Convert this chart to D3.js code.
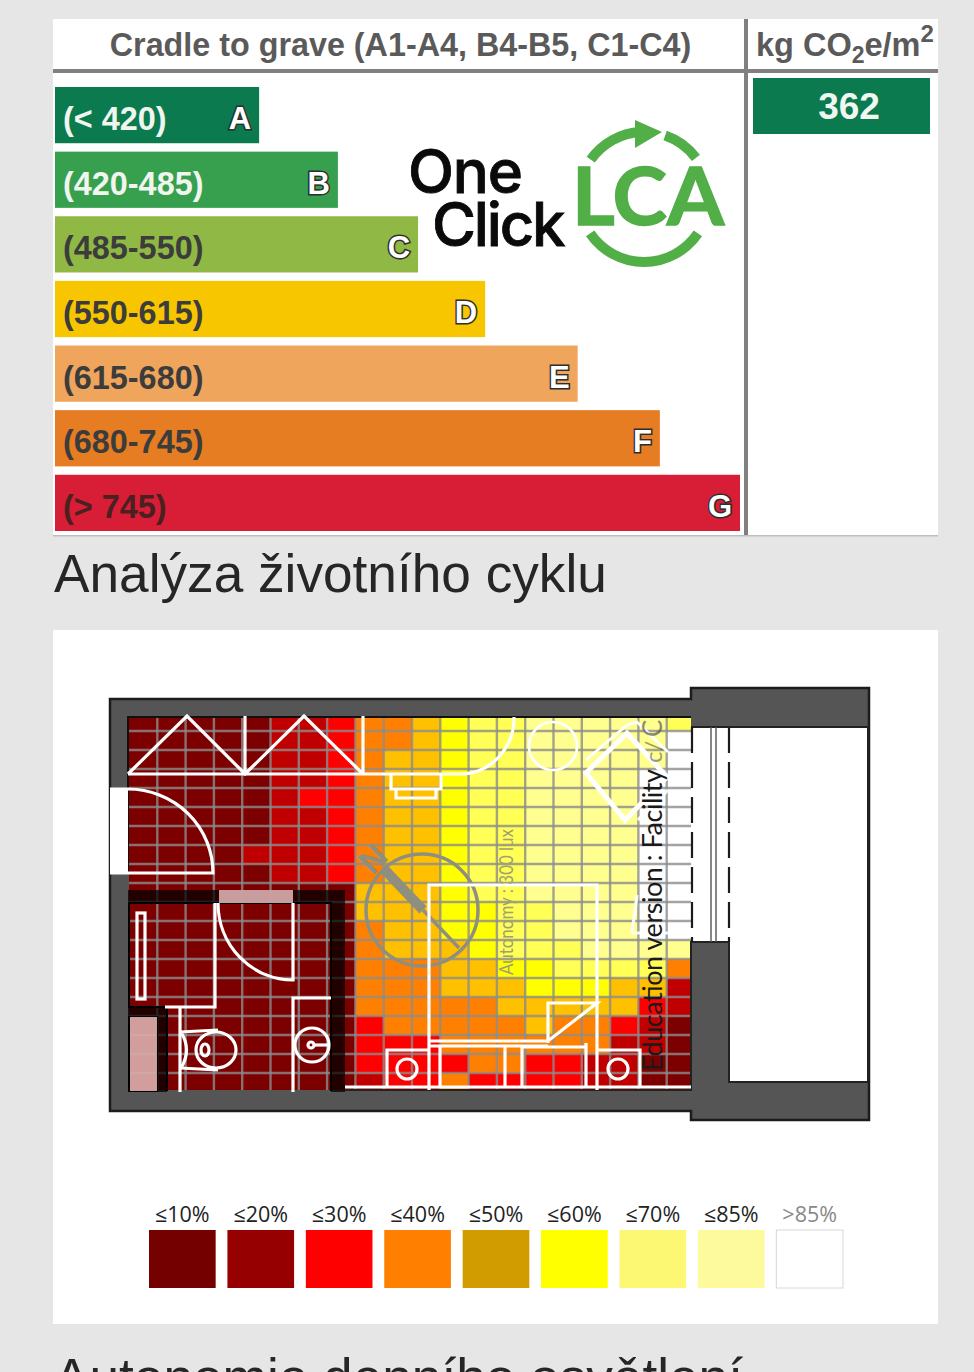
<!DOCTYPE html>
<html>
<head>
<meta charset="utf-8">
<script src="https://cdn.jsdelivr.net/npm/d3@7"></script>
<style>
  html, body { margin: 0; padding: 0; background: #e6e6e6; overflow: hidden; }
  svg { display: block; }
  text { font-family: "Liberation Sans", sans-serif; }
</style>
</head>
<body>
<div id="chart-container"></div>
<script>
// rating bands
const grades = ["A", "B", "C", "D", "E", "F", "G"];
const ranges = ["(< 420)", "(420-485)", "(485-550)", "(550-615)", "(615-680)", "(680-745)", "(> 745)"];
const barLengths = [29.8, 41.3, 53, 62.8, 76.3, 88.3, 100];
const barColors = ["#0b7a4f", "#36a04e", "#8fb944", "#f8c600", "#f0a55c", "#e67d22", "#d71e36"];
const rangeColors = ["#f0f5ee", "#f0f5ee", "#3c3c3c", "#3c3c3c", "#3c3c3c", "#3c3c3c", "#4a2020"];
const resultValue = 362;

// daylight autonomy, one string per grid row, one digit per cell (index into heatColors)
const heatRows = [
  "00000112334566777776",
  "00000112334566777778",
  "00000112344566777778",
  "00000112344566777788",
  "00000122344566777788",
  "00000112344566777788",
  "00000112344566777788",
  "00001112344566777788",
  "00000112344566777788",
  "00000000444566777788",
  "00000000444556677788",
  "00000000344556677788",
  "00000000344456667777",
  "00000000333445566663",
  "00000000333444555441",
  "00000000333334444421",
  "00000000233333433210",
  "00000000222333333110",
  "00000000222233221100",
  "00000000122322221100"
];
const heatColors = ["#7d0000", "#c00000", "#ff0000", "#ff8000", "#ffc000", "#ffff00", "#ffff55", "#ffff90", "#ffffff"];

// legend
const legendLabels = ["≤10%", "≤20%", "≤30%", "≤40%", "≤50%", "≤60%", "≤70%", "≤85%", ">85%"];
const legendColors = ["#750000", "#960000", "#ff0000", "#ff8000", "#d09c00", "#ffff00", "#fdf873", "#fdfa9e", "#ffffff"];

const svg = d3.select("#chart-container")
  .append("svg")
  .attr("width", 974)
  .attr("height", 1372);

// ---- LCA table ----
svg.append("rect").attr("x", 53).attr("y", 19).attr("width", 885).attr("height", 517).attr("fill", "#fff");

const barX = d3.scaleLinear().domain([0, 100]).range([55, 740]);
const barY = d3.scaleBand().domain(grades).range([87, 531]).paddingInner(0.13);

svg.append("text")
  .attr("x", 400.5).attr("y", 56)
  .attr("text-anchor", "middle")
  .attr("font-size", 32.3).attr("font-weight", "bold").attr("fill", "#5a5a5a")
  .text("Cradle to grave (A1-A4, B4-B5, C1-C4)");

const unit = svg.append("text")
  .attr("x", 756).attr("y", 56)
  .attr("font-size", 32.5).attr("font-weight", "bold").attr("fill", "#5a5a5a");
unit.append("tspan").text("kg CO");
unit.append("tspan").attr("font-size", 23).attr("dy", 7).text("2");
unit.append("tspan").attr("dy", -7).text("e/m");
unit.append("tspan").attr("font-size", 24).attr("dy", -14).text("2");

// header rules
svg.append("rect").attr("x", 53).attr("y", 69).attr("width", 885).attr("height", 4).attr("fill", "#808080");
svg.append("rect").attr("x", 744).attr("y", 19).attr("width", 4).attr("height", 517).attr("fill", "#808080");
svg.append("rect").attr("x", 53).attr("y", 535).attr("width", 885).attr("height", 1.5).attr("fill", "#bdbdbd");

const bars = svg.append("g").selectAll("g")
  .data(grades)
  .join("g");

bars.append("rect")
  .attr("x", barX(0))
  .attr("y", d => barY(d))
  .attr("width", (d, i) => barX(barLengths[i]) - barX(0))
  .attr("height", barY.bandwidth())
  .attr("fill", (d, i) => barColors[i]);

bars.append("text")
  .attr("x", barX(0) + 8)
  .attr("y", d => barY(d) + barY.bandwidth() / 2 + 15)
  .attr("font-size", 32.4).attr("font-weight", "bold")
  .attr("fill", (d, i) => rangeColors[i])
  .text((d, i) => ranges[i]);

// grade letters, white with a dark outline
bars.append("text")
  .attr("x", (d, i) => barX(barLengths[i]) - 8)
  .attr("y", d => barY(d) + barY.bandwidth() / 2 + 14)
  .attr("text-anchor", "end")
  .attr("font-size", 31).attr("font-weight", "bold")
  .attr("fill", "#fff").attr("stroke", "#2e2e2e").attr("stroke-width", 3)
  .attr("paint-order", "stroke")
  .text(d => d);

svg.append("rect").attr("x", 753).attr("y", 78).attr("width", 177).attr("height", 56).attr("fill", "#0b7a4f");
svg.append("text")
  .attr("x", 849).attr("y", 119)
  .attr("text-anchor", "middle")
  .attr("font-size", 37).attr("font-weight", "bold").attr("fill", "#f0f7f2")
  .text(resultValue);

// ---- One Click LCA logo ----
svg.append("text").attr("x", 408).attr("y", 193)
  .attr("font-size", 60).attr("fill", "#0a0a0a").attr("stroke", "#0a0a0a").attr("stroke-width", 0.8)
  .style("font-family", "Inter").attr("font-weight", 500).attr("letter-spacing", -1.2)
  .text("One");
svg.append("text").attr("x", 432).attr("y", 246)
  .attr("font-size", 60).attr("fill", "#0a0a0a").attr("stroke", "#0a0a0a").attr("stroke-width", 0.8)
  .style("font-family", "Inter").attr("font-weight", 500).attr("letter-spacing", -2.2)
  .text("Click");
svg.append("text").attr("x", 572).attr("y", 225)
  .attr("font-size", 80).attr("fill", "#52ae47").attr("stroke", "#52ae47").attr("stroke-width", 1.5).attr("font-weight", "bold")
  .attr("textLength", 152).attr("lengthAdjust", "spacingAndGlyphs")
  .style("font-family", "Lato")
  .text("LCA");

const logoArc = d3.arc().innerRadius(60).outerRadius(70);
const deg = Math.PI / 180;
const logo = svg.append("g").attr("transform", "translate(644,197)").attr("fill", "#52ae47");
[[-55, -3], [19, 53], [124, 236]].forEach(a => {
  logo.append("path").attr("d", logoArc({ startAngle: a[0] * deg, endAngle: a[1] * deg }));
});
logo.append("path").attr("d", "M-9,-77 L18,-65 L-9,-49 Z");

// ---- heading ----
svg.append("text").attr("x", 54).attr("y", 592)
  .attr("font-size", 53.2).attr("fill", "#262626")
  .text("Analýza životního cyklu");

// ---- daylight panel ----
svg.append("rect").attr("x", 53).attr("y", 630).attr("width", 885).attr("height", 694).attr("fill", "#fff");

const plan = svg.append("g");

// outer walls
plan.append("path")
  .attr("d", "M110,699 H691 V688 H869 V1120 H691 V1111 H110 Z")
  .attr("fill", "#555").attr("stroke", "#1c1c1c").attr("stroke-width", 2.5);

svg.append("clipPath").attr("id", "room")
  .append("rect").attr("x", 129).attr("y", 718).attr("width", 562).attr("height", 372);

const cellX = d3.scaleLinear().domain([0, 20]).range([129, 695]);
const cellY = d3.scaleLinear().domain([0, 20]).range([712, 1092]);

const heat = plan.append("g").attr("clip-path", "url(#room)");

heatRows.forEach((row, r) => {
  heat.append("g").selectAll("rect")
    .data(row.split("").map(Number))
    .join("rect")
    .attr("x", (d, c) => cellX(c))
    .attr("y", cellY(r))
    .attr("width", cellX(1) - cellX(0) + 0.5)
    .attr("height", cellY(1) - cellY(0) + 0.5)
    .attr("fill", d => heatColors[d]);
});

// grid over the cells
heat.append("g").selectAll("line")
  .data(d3.range(1, 20))
  .join("line")
  .attr("x1", d => cellX(d)).attr("x2", d => cellX(d))
  .attr("y1", 718).attr("y2", 1090)
  .attr("stroke", "#8c8c8c").attr("stroke-opacity", 0.8).attr("stroke-width", 2.4);
heat.append("g").selectAll("line")
  .data(d3.range(1, 20))
  .join("line")
  .attr("x1", 129).attr("x2", 691)
  .attr("y1", d => cellY(d)).attr("y2", d => cellY(d))
  .attr("stroke", "#8c8c8c").attr("stroke-opacity", 0.8).attr("stroke-width", 2.4);

// room edges and exterior
plan.append("path").attr("d", "M128,873 V717 H691").attr("fill", "none").attr("stroke", "#111").attr("stroke-width", 2);
plan.append("rect").attr("x", 691).attr("y", 727).attr("width", 38).attr("height", 215).attr("fill", "#fff");
plan.append("rect").attr("x", 729).attr("y", 727).attr("width", 139).attr("height", 355).attr("fill", "#fff");
plan.append("path").attr("d", "M691,727 H868 V1082 H729 V942 H691 V1090 H345")
  .attr("fill", "none").attr("stroke", "#222").attr("stroke-width", 2);

// bathroom walls
plan.append("path")
  .attr("d", "M128,890 H345 V1092 H331 V903 H128 Z M128,1007 H167 V1092 H157 V1017 H128 Z")
  .attr("fill", "#000").attr("fill-opacity", 0.72);
plan.append("path")
  .attr("d", "M129,903 H331 V1091 M129,903 V1007 H167 V1091 M129,1017 V1091 H157 V1017 Z")
  .attr("fill", "none").attr("stroke", "#000").attr("stroke-width", 2);
plan.append("rect").attr("x", 130).attr("y", 1017).attr("width", 27).attr("height", 74).attr("fill", "#d8aaaa").attr("fill-opacity", 0.92);
plan.append("rect").attr("x", 219).attr("y", 890).attr("width", 74).attr("height", 13).attr("fill", "#d8aaaa").attr("fill-opacity", 0.92);

// north arrow
const north = plan.append("g").attr("stroke", "#8f8f80").attr("fill", "none");
north.append("circle").attr("cx", 422).attr("cy", 910).attr("r", 56).attr("stroke-width", 3.5);
north.append("path").attr("d", "M383,868 L423,910").attr("stroke-width", 10);
north.append("path").attr("d", "M423,910 L459,948").attr("stroke-width", 3.5);
plan.append("text")
  .attr("transform", "translate(381,867) rotate(-45)")
  .attr("font-size", 34).attr("font-weight", "bold").attr("fill", "#8f8f80")
  .attr("text-anchor", "middle")
  .text("N");

// white line work of the furniture and doors
const lines = plan.append("g").attr("fill", "none").attr("stroke", "#fff").attr("stroke-width", 3.2);

lines.append("path").attr("d", "M128,774 H460 A54,56 0 0 0 514,717");
lines.append("path").attr("d", "M128,774 L187,716 L245,774 L304,716 L363,774 M245,716 V774 M363,716 V774");
lines.append("path").attr("d", "M391,775 V789 H441 V775 M396,789 V798 H436 V789");
lines.append("circle").attr("cx", 553).attr("cy", 746).attr("r", 24).attr("stroke-width", 2.6);
lines.append("path").attr("d", "M586,773 L627,733 L667,777 L625,820 Z").attr("stroke-width", 5);
lines.append("path").attr("d", "M586,760 L627,725 L637,722 L668,752").attr("stroke-width", 2.8);
lines.append("path").attr("d", "M638,820 L668,790 M632,933 L637,895 M632,933 H691").attr("stroke-opacity", 0.9);

// entrance door, gap in the wall
plan.append("rect").attr("x", 110).attr("y", 789).attr("width", 18).attr("height", 84).attr("fill", "#fff");
lines.append("path").attr("d", "M110,873 H213 A85,84 0 0 0 128,789 H110");

// bathroom
lines.append("path").attr("d", "M215,903 V1007 H165 M180,1007 V1092");
lines.append("path").attr("d", "M218,903 A75,77 0 0 0 293,980 V903");
lines.append("path").attr("d", "M331,998 H293 V1092");
lines.append("rect").attr("x", 137).attr("y", 913).attr("width", 8).attr("height", 86);
lines.append("ellipse").attr("cx", 216).attr("cy", 1050).attr("rx", 20).attr("ry", 18);
lines.append("ellipse").attr("cx", 205).attr("cy", 1050).attr("rx", 4).attr("ry", 6);
lines.append("path").attr("d", "M180,1032 L218,1030 M180,1068 L218,1070 M181,1032 Q192,1050 181,1068");
lines.append("circle").attr("cx", 312).attr("cy", 1045).attr("r", 17);
lines.append("circle").attr("cx", 311).attr("cy", 1045).attr("r", 3);
lines.append("path").attr("d", "M314,1045 H330");

// bed and bedside tables
lines.append("path").attr("d", "M429,1090 V885 H597 V1090");
lines.append("path").attr("d", "M429,1041 H548 L597,1003 H548 V1043 M429,1046 H548");
lines.append("path").attr("d", "M387,1087 V1050 H429 M597,1050 H640 V1087");
lines.append("path").attr("d", "M440,1087 V1047 M505,1087 V1047 M522,1087 V1047 H586 M586,1043 V1087");
lines.append("circle").attr("cx", 407).attr("cy", 1069).attr("r", 10).attr("stroke-width", 3.2);
lines.append("circle").attr("cx", 618).attr("cy", 1069).attr("r", 10).attr("stroke-width", 3.2);
lines.append("path").attr("d", "M345,1087 H691");

// window
const win = plan.append("g").attr("fill", "none");
win.append("path").attr("d", "M692,727 V942").attr("stroke", "#1c1c1c").attr("stroke-width", 2.2).attr("stroke-dasharray", "26 9");
win.append("path").attr("d", "M729,727 V942").attr("stroke", "#1c1c1c").attr("stroke-width", 2.2).attr("stroke-dasharray", "26 9");
win.append("path").attr("d", "M711,727 V942 M716,727 V942").attr("stroke", "#555").attr("stroke-width", 1.4);

// licence watermarks left in the simulation output
plan.append("text")
  .attr("transform", "translate(662,1071) rotate(-90)")
  .attr("font-size", 27).attr("fill", "#1a1a1a")
  .attr("textLength", 302).attr("lengthAdjust", "spacing")
  .style("font-family", "Lato")
  .text("Education version : Facility");
const wmark = plan.append("g").attr("clip-path", "url(#room)");
wmark.append("text")
  .attr("transform", "translate(662,763) rotate(-90)")
  .attr("font-size", 24).attr("fill", "#555").attr("fill-opacity", 0.6)
  .style("font-family", "Lato")
  .text("c/");
wmark.append("text")
  .attr("transform", "translate(662,737) rotate(-90)")
  .attr("font-size", 26).attr("fill", "#555").attr("fill-opacity", 0.7)
  .style("font-family", "Lato")
  .text("C");
plan.append("text")
  .attr("transform", "translate(513,975) rotate(-90)")
  .attr("font-size", 20).attr("fill", "#a0a070")
  .attr("textLength", 146).attr("lengthAdjust", "spacingAndGlyphs")
  .style("font-family", "Lato")
  .text("Autonomy : 300 lux");

// ---- legend ----
const legendX = d3.scaleBand().domain(legendLabels).range([149, 843]).paddingInner(0.15);

const legend = svg.append("g").selectAll("g")
  .data(legendLabels)
  .join("g");

legend.append("rect")
  .attr("x", d => legendX(d))
  .attr("y", 1230)
  .attr("width", legendX.bandwidth())
  .attr("height", 58)
  .attr("fill", (d, i) => legendColors[i])
  .attr("stroke", (d, i) => i === 8 ? "#d8d8d8" : "none");

legend.append("text")
  .attr("x", d => legendX(d) + legendX.bandwidth() / 2)
  .attr("y", 1222)
  .attr("text-anchor", "middle")
  .attr("font-size", 21.5)
  .attr("fill", (d, i) => i === 8 ? "#888" : "#222")
  .style("font-family", "Open Sans")
  .text(d => d);

// ---- next heading, cut by the bottom of the page ----
svg.append("text").attr("x", 54).attr("y", 1396)
  .attr("font-size", 53.2).attr("fill", "#262626")
  .text("Autonomie denního osvětlení");
</script>
</body>
</html>
